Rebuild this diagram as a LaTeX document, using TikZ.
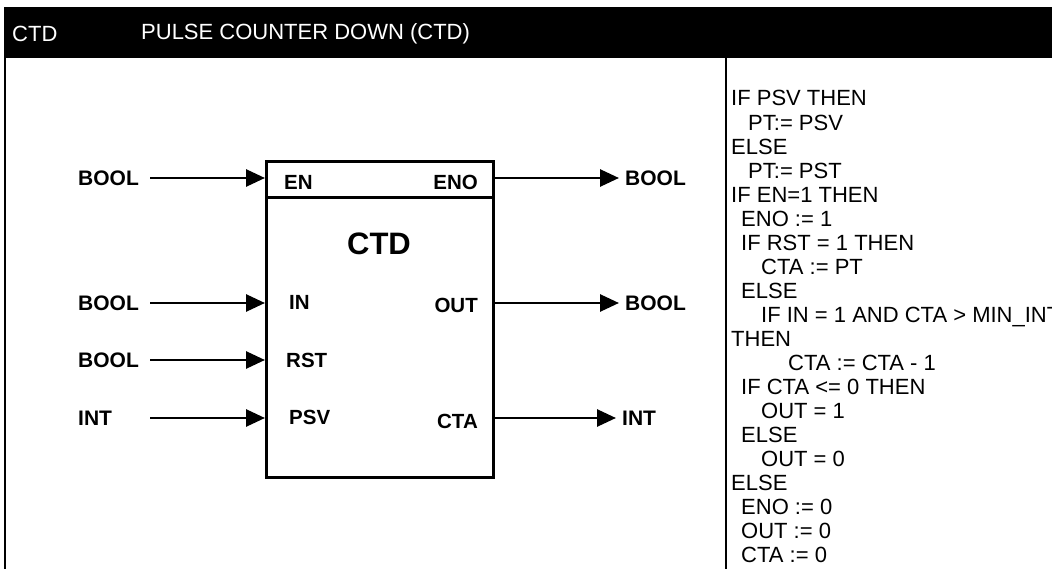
\documentclass[tikz,border=0pt]{standalone}
\usepackage{fontspec}
\setmainfont{Liberation Sans}
\usetikzlibrary{arrows.meta}
\begin{document}
\begin{tikzpicture}[x=1pt,y=-1pt,
  lbl/.style={font=\fontsize{21}{24}\selectfont\bfseries, inner sep=0pt},
  pin/.style={font=\fontsize{20.5}{24}\selectfont\bfseries, inner sep=0pt},
  hdr/.style={font=\fontsize{22}{26}\selectfont, text=white, inner sep=0pt, anchor=west},
  code/.style={font=\fontsize{22}{24}\selectfont, inner sep=0pt, anchor=base west},
  arr/.style={line width=2.8pt, -{Triangle[length=19pt,width=17pt]}},
  rule/.style={line width=2.4pt}]
\clip (0,0) rectangle (1052,569);
\fill[white] (0,0) rectangle (1052,569);
% header
\fill[black] (4,7) rectangle (1052,58);
\node[hdr] (h1) at (12,34) {CTD};
\node[hdr] (h2) at (141,34) {PULSE COUNTER DOWN (CTD)};
% frame lines
\coordinate (lt) at (5,58);
\coordinate (lb) at (5,569);
\coordinate (dt) at (726,58);
\coordinate (db) at (726,569);
\draw[rule] (lt) -- (lb);
\draw[rule] (dt) -- (db);
% block
\node[draw, line width=3pt, minimum width=227pt, minimum height=316pt,
      anchor=north west, inner sep=0pt] (blk) at (265,160) {};
\coordinate (sepl) at (265,198);
\draw[line width=3pt] (sepl) -- (sepl -| blk.east);
\node[font=\fontsize{31}{36}\selectfont\bfseries, inner sep=0pt] (title) at (379,244) {CTD};
% pins
\node[pin, anchor=west] (pEN) at (284,182) {EN};
\node[pin, anchor=east] (pENO) at (478,182) {ENO};
\node[pin, anchor=west] (pIN) at (289,302) {IN};
\node[pin, anchor=east] (pOUT) at (478,305) {OUT};
\node[pin, anchor=west] (pRST) at (286,360) {RST};
\node[pin, anchor=west] (pPSV) at (289,417) {PSV};
\node[pin, anchor=east] (pCTA) at (478,421) {CTA};
% input labels
\node[lbl, anchor=west] (iEN) at (78,178) {BOOL};
\node[lbl, anchor=west] (iIN) at (78,303) {BOOL};
\node[lbl, anchor=west] (iRST) at (78,360) {BOOL};
\node[lbl, anchor=west] (iPSV) at (78,418) {INT};
\coordinate (sEN) at (150,178);
\coordinate (sIN) at (150,303);
\coordinate (sRST) at (150,360);
\coordinate (sPSV) at (150,418);
\draw[arr] (sEN) -- (sEN -| blk.west);
\draw[arr] (sIN) -- (sIN -| blk.west);
\draw[arr] (sRST) -- (sRST -| blk.west);
\draw[arr] (sPSV) -- (sPSV -| blk.west);
% output labels
\node[lbl, anchor=west] (oENO) at (625,178) {BOOL};
\node[lbl, anchor=west] (oOUT) at (625,303) {BOOL};
\node[lbl, anchor=west] (oCTA) at (622,418) {INT};
\draw[arr] (oENO.west -| blk.east) -- ([xshift=-6pt]oENO.west);
\draw[arr] (oOUT.west -| blk.east) -- ([xshift=-6pt]oOUT.west);
\draw[arr] (oCTA.west -| blk.east) -- ([xshift=-6pt]oCTA.west);
% code
\foreach \t [count=\k from 0] in {
  {IF PSV THEN},
  {\hspace*{17pt}PT:= PSV},
  {ELSE},
  {\hspace*{17pt}PT:= PST},
  {IF EN=1 THEN},
  {\hspace*{10pt}ENO := 1},
  {\hspace*{10pt}IF RST = 1 THEN},
  {\hspace*{30pt}CTA := PT},
  {\hspace*{10pt}ELSE},
  {\hspace*{30pt}IF IN = 1 AND CTA > MIN\_INT},
  {THEN},
  {\hspace*{57pt}CTA := CTA - 1},
  {\hspace*{10pt}IF CTA <= 0 THEN},
  {\hspace*{30pt}OUT = 1},
  {\hspace*{10pt}ELSE},
  {\hspace*{30pt}OUT = 0},
  {ELSE},
  {\hspace*{10pt}ENO := 0},
  {\hspace*{10pt}OUT := 0},
  {\hspace*{10pt}CTA := 0}}
  \node[code] (c\k) at (731, 106+24.05*\k) {\t};
\end{tikzpicture}
\end{document}
